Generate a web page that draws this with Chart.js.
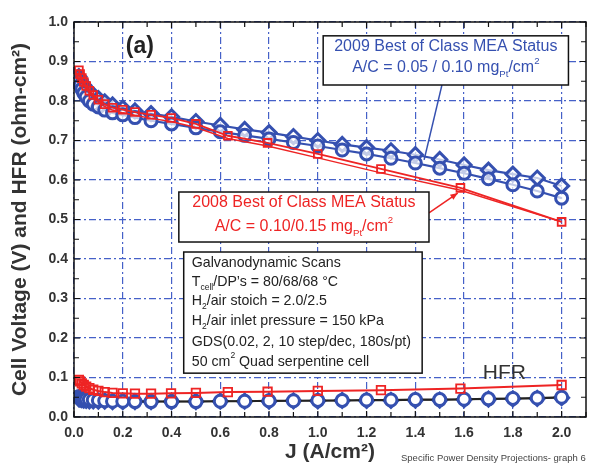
<!DOCTYPE html>
<html>
<head>
<meta charset="utf-8">
<script src="https://cdn.jsdelivr.net/npm/chart.js@4.4.0/dist/chart.umd.min.js"></script>
<style>
html, body { margin: 0; padding: 0; background: #fff; }
canvas { display: block; }
</style>
</head>
<body>
<canvas id="chart" width="596" height="465"></canvas>
<script>
// GDS log steps (10 step/dec) used for the 2008 scan
const current2008 = [0.02, 0.025, 0.032, 0.04, 0.05, 0.063, 0.079, 0.1, 0.126, 0.158, 0.2, 0.25, 0.316, 0.398, 0.5, 0.631, 0.794, 1.0, 1.259, 1.585, 2.0];
const voltage2008 = [0.878, 0.868, 0.858, 0.848, 0.838, 0.826, 0.815, 0.803, 0.792, 0.783, 0.778, 0.772, 0.765, 0.757, 0.742, 0.712, 0.694, 0.666, 0.628, 0.580, 0.494];
const voltage2008b = [0.872, 0.862, 0.852, 0.842, 0.832, 0.820, 0.809, 0.797, 0.786, 0.777, 0.770, 0.764, 0.756, 0.748, 0.733, 0.705, 0.686, 0.656, 0.618, 0.574, 0.494];
const hfr2008 = [0.094, 0.090, 0.085, 0.081, 0.077, 0.073, 0.069, 0.066, 0.063, 0.061, 0.060, 0.059, 0.059, 0.060, 0.061, 0.063, 0.064, 0.066, 0.068, 0.072, 0.081];

// 2009 scans: log steps at low current, then 0.1 A/cm2 steps
const current2009 = [0.02, 0.025, 0.032, 0.04, 0.05, 0.063, 0.079, 0.1, 0.126, 0.158, 0.2, 0.25, 0.316, 0.4, 0.5, 0.6, 0.7, 0.8, 0.9, 1.0, 1.1, 1.2, 1.3, 1.4, 1.5, 1.6, 1.7, 1.8, 1.9, 2.0];
const voltage2009a = [0.862, 0.855, 0.847, 0.840, 0.832, 0.823, 0.815, 0.806, 0.798, 0.790, 0.782, 0.775, 0.768, 0.760, 0.748, 0.738, 0.728, 0.720, 0.710, 0.700, 0.690, 0.682, 0.674, 0.664, 0.652, 0.638, 0.625, 0.615, 0.605, 0.585];
const voltage2009b = [0.850, 0.840, 0.830, 0.820, 0.810, 0.800, 0.792, 0.785, 0.777, 0.770, 0.765, 0.758, 0.750, 0.742, 0.732, 0.722, 0.713, 0.704, 0.695, 0.686, 0.676, 0.666, 0.655, 0.643, 0.630, 0.617, 0.603, 0.588, 0.572, 0.554];
const hfr2009a = [0.052, 0.050, 0.048, 0.046, 0.045, 0.044, 0.043, 0.042, 0.041, 0.040, 0.040, 0.039, 0.039, 0.039, 0.039, 0.040, 0.040, 0.041, 0.041, 0.042, 0.042, 0.043, 0.043, 0.044, 0.044, 0.045, 0.046, 0.047, 0.048, 0.050];
const hfr2009b = [0.046, 0.045, 0.044, 0.043, 0.042, 0.041, 0.041, 0.040, 0.040, 0.039, 0.039, 0.039, 0.039, 0.039, 0.039, 0.040, 0.040, 0.040, 0.041, 0.041, 0.042, 0.042, 0.042, 0.043, 0.043, 0.044, 0.045, 0.046, 0.047, 0.049];

// Axis ticks
const xTicks = [0.0, 0.2, 0.4, 0.6, 0.8, 1.0, 1.2, 1.4, 1.6, 1.8, 2.0];
const yTicks = [0.0, 0.1, 0.2, 0.3, 0.4, 0.5, 0.6, 0.7, 0.8, 0.9, 1.0];

const FONT = '"Liberation Sans", Arial, sans-serif';
const BLUE = '#3550b0';
const RED = '#ee2424';
const GRID = '#4561c8';

function pts(xs, ys) {
    return xs.map((x, i) => ({x: x, y: ys[i]}));
}

// draw text with sub/superscript parts
function richText(ctx, parts, x, y, size, color, align) {
    ctx.fillStyle = color;
    ctx.textBaseline = 'middle';
    ctx.textAlign = 'left';
    let w = 0;
    parts.forEach(p => {
        ctx.font = (p[1] ? size * 0.6 : size) + 'px ' + FONT;
        w += ctx.measureText(p[0]).width;
    });
    let cx = align === 'center' ? x - w / 2 : x;
    parts.forEach(p => {
        const s = p[1] ? size * 0.6 : size;
        ctx.font = s + 'px ' + FONT;
        const dy = p[1] === 'sub' ? size * 0.38 : (p[1] === 'sup' ? -size * 0.42 : 0);
        ctx.fillText(p[0], cx, y + dy);
        cx += ctx.measureText(p[0]).width;
    });
}

const framePlugin = {
    id: 'frame',
    afterDatasetsDraw(chart) {
        const ctx = chart.ctx;
        const a = chart.chartArea;
        const xs = chart.scales.x, ys = chart.scales.y;
        ctx.save();
        ctx.strokeStyle = '#111';
        ctx.lineWidth = 1.5;
        ctx.strokeRect(a.left, a.top, a.right - a.left, a.bottom - a.top);
        ctx.lineWidth = 1.2;
        ctx.beginPath();
        for (let i = 0; i <= 21; i++) {
            const v = i * 0.1;
            const px = xs.getPixelForValue(v);
            const len = i % 2 === 0 ? 6 : 5;
            ctx.moveTo(px, a.bottom); ctx.lineTo(px, a.bottom - len);
            ctx.moveTo(px, a.top); ctx.lineTo(px, a.top + len);
        }
        for (let i = 0; i <= 20; i++) {
            const v = i * 0.05;
            const py = ys.getPixelForValue(v);
            const len = i % 2 === 0 ? 6 : 5;
            ctx.moveTo(a.left, py); ctx.lineTo(a.left + len, py);
            ctx.moveTo(a.right, py); ctx.lineTo(a.right - len, py);
        }
        ctx.stroke();
        ctx.restore();
    }
};

const notesPlugin = {
    id: 'notes',
    afterDraw(chart) {
        const ctx = chart.ctx;
        const xs = chart.scales.x, ys = chart.scales.y;
        const X = v => xs.getPixelForValue(v);
        const Y = v => ys.getPixelForValue(v);
        ctx.save();

        // panel label
        ctx.fillStyle = '#222';
        ctx.font = 'bold 23px ' + FONT;
        ctx.textAlign = 'center';
        ctx.textBaseline = 'middle';
        ctx.fillText('(a)', X(0.27), Y(0.937));

        // leader lines
        ctx.lineWidth = 1.5;
        ctx.strokeStyle = BLUE;
        ctx.beginPath();
        ctx.moveTo(X(1.509), Y(0.84));
        ctx.lineTo(X(1.436), Y(0.651));
        ctx.stroke();
        ctx.strokeStyle = RED;
        ctx.fillStyle = RED;
        ctx.beginPath();
        ctx.moveTo(X(1.456), Y(0.5165));
        ctx.lineTo(X(1.574), Y(0.567));
        ctx.stroke();
        // small arrow head at the square
        const ex = X(1.574), ey = Y(0.567);
        const ang = Math.atan2(ey - Y(0.5165), ex - X(1.456));
        ctx.beginPath();
        ctx.moveTo(ex, ey);
        ctx.lineTo(ex - 8 * Math.cos(ang - 0.4), ey - 8 * Math.sin(ang - 0.4));
        ctx.lineTo(ex - 8 * Math.cos(ang + 0.4), ey - 8 * Math.sin(ang + 0.4));
        ctx.closePath();
        ctx.fill();

        // boxes
        function box(x0, y0, x1, y1) {
            ctx.fillStyle = '#fff';
            ctx.fillRect(X(x0), Y(y0), X(x1) - X(x0), Y(y1) - Y(y0));
            ctx.strokeStyle = '#111';
            ctx.lineWidth = 1.5;
            ctx.strokeRect(X(x0), Y(y0), X(x1) - X(x0), Y(y1) - Y(y0));
        }
        box(1.022, 0.965, 2.028, 0.8405);
        richText(ctx, [['2009 Best of Class MEA Status', '']], X(1.525), Y(0.939), 16, BLUE, 'center');
        richText(ctx, [['A/C = 0.05 / 0.10 mg', ''], ['Pt', 'sub'], ['/cm', ''], ['2', 'sup']], X(1.525), Y(0.8835), 16, BLUE, 'center');

        box(0.43, 0.5696, 1.456, 0.443);
        richText(ctx, [['2008 Best of Class MEA Status', '']], X(0.943), Y(0.5418), 16, RED, 'center');
        richText(ctx, [['A/C = 0.10/0.15 mg', ''], ['Pt', 'sub'], ['/cm', ''], ['2', 'sup']], X(0.943), Y(0.481), 16, RED, 'center');

        box(0.45, 0.4177, 1.428, 0.111);
        const info = [
            [['Galvanodynamic Scans', '']],
            [['T', ''], ['cell', 'sub'], ['/DP\u2019s = 80/68/68 \u00B0C', '']],
            [['H', ''], ['2', 'sub'], ['/air stoich = 2.0/2.5', '']],
            [['H', ''], ['2', 'sub'], ['/air inlet pressure = 150 kPa', '']],
            [['GDS(0.02, 2, 10 step/dec, 180s/pt)', '']],
            [['50 cm', ''], ['2', 'sup'], [' Quad serpentine cell', '']]
        ];
        const infoY = [0.39, 0.342, 0.294, 0.243, 0.19, 0.139];
        info.forEach((line, i) => richText(ctx, line, X(0.483), Y(infoY[i]), 14.2, '#222', 'left'));

        // HFR label
        ctx.fillStyle = '#333';
        ctx.font = '21px ' + FONT;
        ctx.textAlign = 'center';
        ctx.textBaseline = 'middle';
        ctx.fillText('HFR', X(1.765), Y(0.111));

        // footnote
        ctx.font = '9.5px ' + FONT;
        ctx.fillStyle = '#444';
        ctx.textAlign = 'left';
        ctx.fillText('Specific Power Density Projections- graph 6', 401, 458);
        ctx.restore();
    }
};

const chart = new Chart(document.getElementById('chart').getContext('2d'), {
    type: 'line',
    data: {
        datasets: [{
            label: '2008 VI',
            data: pts(current2008, voltage2008),
            borderColor: RED,
            borderWidth: 1.8,
            pointStyle: 'rect',
            pointRadius: 5.5,
            pointBorderWidth: 1.8,
            pointBorderColor: RED,
            pointBackgroundColor: 'rgba(255,255,255,0)'
        }, {
            label: '2008 VI repeat',
            data: pts(current2008, voltage2008b),
            borderColor: RED,
            borderWidth: 1.5,
            pointRadius: 0
        }, {
            label: '2008 HFR',
            data: pts(current2008, hfr2008),
            borderColor: RED,
            borderWidth: 2,
            pointStyle: 'rect',
            pointRadius: 6,
            pointBorderWidth: 1.8,
            pointBorderColor: RED,
            pointBackgroundColor: 'rgba(255,255,255,0)'
        }, {
            label: '2009 HFR a',
            data: pts(current2009, hfr2009a),
            borderColor: '#222',
            borderWidth: 2,
            pointStyle: 'circle',
            pointRadius: 6,
            pointBorderWidth: 3,
            pointBorderColor: BLUE,
            pointBackgroundColor: '#fff'
        }, {
            label: '2009 HFR b',
            data: pts(current2009, hfr2009b),
            borderColor: '#222',
            borderWidth: 1.5,
            pointStyle: 'rectRot',
            pointRadius: 7,
            pointBorderWidth: 3,
            pointBorderColor: BLUE,
            pointBackgroundColor: '#fff'
        }, {
            label: '2009 VI b',
            data: pts(current2009, voltage2009b),
            borderColor: BLUE,
            borderWidth: 2.2,
            pointStyle: 'circle',
            pointRadius: 6,
            pointBorderWidth: 3,
            pointBorderColor: BLUE,
            pointBackgroundColor: 'rgba(255,255,255,0.7)'
        }, {
            label: '2009 VI a',
            data: pts(current2009, voltage2009a),
            borderColor: BLUE,
            borderWidth: 2.2,
            pointStyle: 'rectRot',
            pointRadius: 7,
            pointBorderWidth: 3,
            pointBorderColor: BLUE,
            pointBackgroundColor: 'rgba(255,255,255,0.7)'
        }]
    },
    options: {
        responsive: false,
        animation: false,
        layout: {padding: {top: 22, right: 3, left: 0, bottom: 0}},
        plugins: {
            legend: {display: false},
            tooltip: {enabled: false}
        },
        scales: {
            x: {
                type: 'linear',
                min: 0,
                max: 2.1,
                afterFit: scale => { scale.height = 48; },
                afterBuildTicks: scale => { scale.ticks = xTicks.map(v => ({value: v})); },
                grid: {color: GRID, lineWidth: 1.2, drawTicks: false},
                border: {display: false, dash: [7, 3, 2, 3]},
                ticks: {
                    padding: 8,
                    color: '#333',
                    font: {family: FONT, size: 14, weight: 'bold'},
                    maxRotation: 0,
                    callback: v => v.toFixed(1)
                },
                title: {
                    display: true,
                    text: 'J (A/cm\u00B2)',
                    color: '#333',
                    font: {family: FONT, size: 21, weight: 'bold'},
                    padding: {top: 0, bottom: 0}
                }
            },
            y: {
                type: 'linear',
                min: 0,
                max: 1.0,
                afterFit: scale => { scale.width = 74; },
                afterBuildTicks: scale => { scale.ticks = yTicks.map(v => ({value: v})); },
                grid: {color: GRID, lineWidth: 1.2, drawTicks: false},
                border: {display: false, dash: [7, 3, 2, 3]},
                ticks: {
                    padding: 6,
                    color: '#333',
                    font: {family: FONT, size: 14, weight: 'bold'},
                    callback: v => v.toFixed(1)
                },
                title: {
                    display: true,
                    text: 'Cell Voltage (V) and HFR (ohm-cm\u00B2)',
                    color: '#333',
                    font: {family: FONT, size: 21, weight: 'bold'},
                    padding: {top: 8, bottom: 8}
                }
            }
        }
    },
    plugins: [framePlugin, notesPlugin]
});
</script>
</body>
</html>
